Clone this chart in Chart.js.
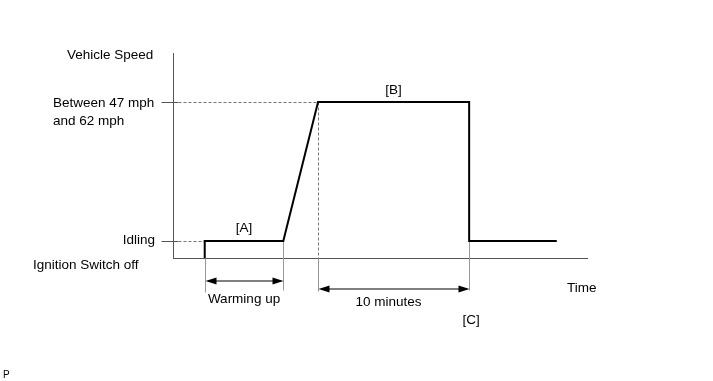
<!DOCTYPE html>
<html lang="en">
<head>
    <meta charset="UTF-8">
    <title>Vehicle Speed</title>
    <script src="https://cdn.jsdelivr.net/npm/chart.js"></script>
    <style>
        body {
            margin: 0;
            padding: 0;
            background: #fff;
        }
        canvas {
            display: block;
        }
    </style>
</head>
<body>
    <canvas id="grafico" width="713" height="381"></canvas>
    <script>
        var tempos = [2.1, 2.1, 7.3, 9.6, 19.6, 19.6, 25.4];
        var velocidades = [0, 6, 6, 55, 55, 6, 6];
        var tempoMax = 27.4;
        var velocidadeMax = 72.3;

        var nivelIdling = 6;
        var nivelAlto = 55;
        var rotulosNivel = ["Between 47 mph", "and 62 mph"];
        var inicioAquecimento = 2.1, fimAquecimento = 7.3;
        var inicioPeriodo = 9.6, fimPeriodo = 19.6;

        var fonte = "13.5px 'Liberation Sans', Arial, sans-serif";

        function seta(ctx, x1, x2, y) {
            ctx.strokeStyle = "#000";
            ctx.lineWidth = 1;
            ctx.beginPath();
            ctx.moveTo(x1 + 4, y + 0.5);
            ctx.lineTo(x2 - 4, y + 0.5);
            ctx.stroke();
            ctx.fillStyle = "#000";
            ctx.beginPath();
            ctx.moveTo(x1, y + 0.5);
            ctx.lineTo(x1 + 11, y - 3);
            ctx.lineTo(x1 + 11, y + 4);
            ctx.closePath();
            ctx.fill();
            ctx.beginPath();
            ctx.moveTo(x2, y + 0.5);
            ctx.lineTo(x2 - 11, y - 3);
            ctx.lineTo(x2 - 11, y + 4);
            ctx.closePath();
            ctx.fill();
        }

        function linha(ctx, x1, y1, x2, y2, cor, tracejado) {
            ctx.save();
            ctx.strokeStyle = cor;
            ctx.lineWidth = 1;
            ctx.setLineDash(tracejado ? [3, 2] : []);
            ctx.beginPath();
            ctx.moveTo(x1, y1);
            ctx.lineTo(x2, y2);
            ctx.stroke();
            ctx.restore();
        }

        var guias = {
            id: "guias",
            beforeDatasetsDraw: function(chart) {
                var ctx = chart.ctx;
                var xs = chart.scales.x, ys = chart.scales.y;
                var x0 = Math.round(xs.getPixelForValue(0)) + 0.5;
                var y0 = Math.round(ys.getPixelForValue(0)) + 0.5;
                var yId = Math.round(ys.getPixelForValue(nivelIdling)) + 0.5;
                var yAl = Math.round(ys.getPixelForValue(nivelAlto)) + 0.5;
                var xA1 = Math.round(xs.getPixelForValue(inicioAquecimento)) + 0.5;
                var xA2 = Math.round(xs.getPixelForValue(fimAquecimento)) + 0.5;
                var xP1 = Math.round(xs.getPixelForValue(inicioPeriodo)) + 0.5;
                var xP2 = Math.round(xs.getPixelForValue(fimPeriodo)) + 0.5;

                // marcas do eixo y
                linha(ctx, x0 - 12, yAl, x0 + 5, yAl, "#555", false);
                linha(ctx, x0 - 12, yId, x0 + 5, yId, "#555", false);
                linha(ctx, x0 + 5, yAl, xP1, yAl, "#777", true);
                linha(ctx, x0 + 5, yId, xA1, yId, "#777", true);
                linha(ctx, xP1, yAl, xP1, y0, "#777", true);

                // linhas de referência abaixo do eixo
                linha(ctx, xA1, y0, xA1, y0 + 34, "#999", false);
                linha(ctx, xA2, yId, xA2, y0 + 32, "#999", false);
                linha(ctx, xP1, y0, xP1, y0 + 33, "#999", false);
                linha(ctx, xP2, yId, xP2, y0 + 32, "#999", false);

                seta(ctx, xA1, xA2, y0 + 22);
                seta(ctx, xP1, xP2, y0 + 30);
            },
            afterDraw: function(chart) {
                var ctx = chart.ctx;
                var xs = chart.scales.x, ys = chart.scales.y;
                var y0 = ys.getPixelForValue(0);
                var yId = ys.getPixelForValue(nivelIdling);
                var yAl = ys.getPixelForValue(nivelAlto);
                ctx.save();
                ctx.fillStyle = "#000";
                ctx.font = fonte;
                ctx.textBaseline = "middle";
                ctx.textAlign = "left";
                ctx.fillText("Vehicle Speed", 67, ys.getPixelForValue(velocidadeMax) + 2);
                ctx.fillText(rotulosNivel[0], 53, yAl + 1);
                ctx.fillText(rotulosNivel[1], 53, yAl + 19);
                ctx.fillText("Ignition Switch off", 33, y0 + 7);
                ctx.fillText("Time", 567, y0 + 30);
                ctx.textAlign = "right";
                ctx.fillText("Idling", 155, yId - 1);
                ctx.textAlign = "center";
                ctx.fillText("[A]", (xs.getPixelForValue(inicioAquecimento) + xs.getPixelForValue(fimAquecimento)) / 2, yId - 13);
                ctx.fillText("[B]", (xs.getPixelForValue(inicioPeriodo) + xs.getPixelForValue(fimPeriodo)) / 2, yAl - 12);
                ctx.fillText("Warming up", (xs.getPixelForValue(inicioAquecimento) + xs.getPixelForValue(fimAquecimento)) / 2, y0 + 41);
                ctx.fillText("10 minutes", (xs.getPixelForValue(inicioPeriodo) + xs.getPixelForValue(fimPeriodo)) / 2 - 5, y0 + 44);
                ctx.fillText("[C]", xs.getPixelForValue(fimPeriodo) + 2, y0 + 62);
                ctx.font = "10px 'Liberation Sans', Arial, sans-serif";
                ctx.textAlign = "left";
                ctx.fillText("P", 3, 375);
                ctx.restore();
            }
        };

        var pontos = tempos.map(function(t, i) {
            return { x: t, y: velocidades[i] };
        });

        new Chart(document.getElementById("grafico").getContext("2d"), {
            type: "line",
            data: {
                datasets: [{
                    data: pontos,
                    borderColor: "#000",
                    borderWidth: 2,
                    pointRadius: 0,
                    tension: 0,
                    fill: false,
                    borderJoinStyle: "miter",
                    clip: false
                }]
            },
            options: {
                responsive: false,
                animation: false,
                events: [],
                layout: {
                    padding: { left: 173, top: 53, right: 126, bottom: 123 }
                },
                plugins: {
                    legend: { display: false },
                    tooltip: { enabled: false }
                },
                scales: {
                    x: {
                        type: "linear",
                        min: 0,
                        max: tempoMax,
                        grid: { display: false },
                        ticks: { display: false },
                        border: { display: true, color: "#555", width: 1 },
                        afterFit: function(s) { s.height = 0; }
                    },
                    y: {
                        type: "linear",
                        min: 0,
                        max: velocidadeMax,
                        grid: { display: false },
                        ticks: { display: false },
                        border: { display: true, color: "#555", width: 1 },
                        afterFit: function(s) { s.width = 0; }
                    }
                }
            },
            plugins: [guias]
        });
    </script>
</body>
</html>
